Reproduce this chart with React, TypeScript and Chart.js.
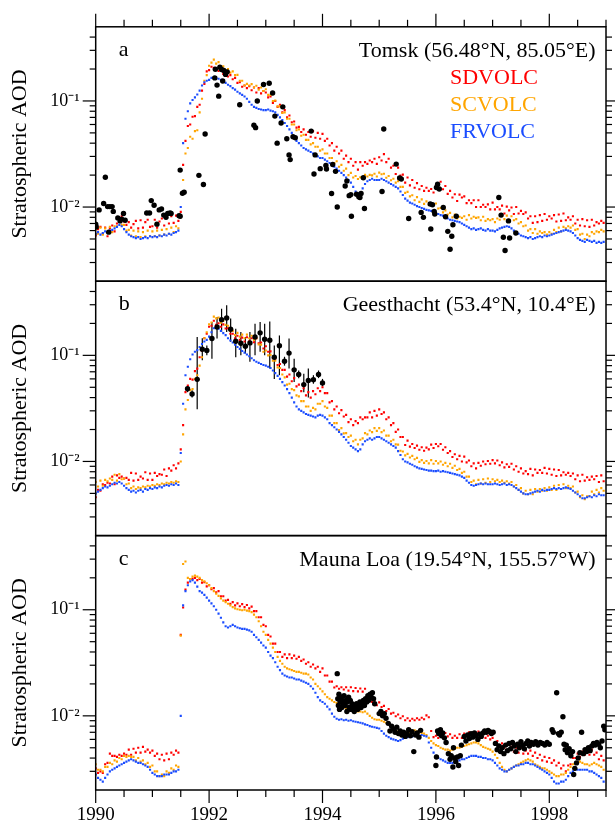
import React, { useEffect, useRef } from 'react';
import { Chart, registerables } from 'chart.js';

Chart.register(...registerables);

const FONT = "'Liberation Serif', 'Times New Roman', serif";

// ---- model series: AOD x 10^-3, sampled every 1/24 year starting 1990.0 ----
const T0 = 1990;
const STEP = 1 / 24;

// Panel a: Tomsk
const TOMSK_SD = [
  5.4, 6.2, 6.5, 5.6, 6.4, 5.3, 6.3, 6.7, 5.9, 7.0, 7.6, 8.2, 7.3, 6.8, 7.2, 6.4, 6.9, 7.4, 6.3, 7.5, 6.4, 7.2, 7.6, 6.5,
  6.6, 7.6, 6.4, 7.3, 7.8, 6.7, 8.0, 7.0, 8.2, 7.1, 8.3, 7.4, 9, 25, 42, 58, 60, 71, 72, 88, 92, 125, 145, 190,
  195, 210, 205, 198, 192, 200, 180, 185, 170, 175, 160, 165, 148, 150, 136, 140, 132, 138, 126, 134, 120, 132, 118, 124,
  120, 108, 110, 96, 100, 88, 92, 78, 82, 70, 73, 63, 64, 56, 57, 51, 54, 48, 51, 46, 52, 45, 50, 44,
  49, 42, 44, 38, 40, 34, 37, 32, 34, 28.5, 30.5, 26.5, 28.5, 24.5, 26.5, 22.5, 26.5, 24.5, 26.5, 25.5, 27.5, 26.5, 28.5, 25.5,
  29.5, 27.5, 31.5, 26.5, 28.5, 23.5, 24.5, 20.5, 23.5, 19.8, 20.2, 17, 19, 16, 18, 15.2, 16.8, 14.7, 15.8, 14.2, 15.2, 14.2, 14.8, 13.7,
  15.8, 15.2, 17.3, 14.7, 15.8, 13.3, 14.2, 12.3, 13.2, 11.4, 13.1, 12.3, 12.6, 10.9, 11.6, 10.9, 11.6, 10, 11.6, 10, 10.5, 10, 10.6, 9.5,
  11, 9.5, 10, 9.5, 10.3, 8.7, 10.1, 9.3, 9.9, 8.6, 10, 8.7, 9.2, 8.6, 8.9, 7.8, 8.2, 7.1, 8.2, 7.2, 8.4, 7.4, 8.6, 7.6,
  8.2, 7.8, 8.4, 7.3, 8.5, 7.4, 8.7, 7.5, 8.0, 7.6, 8.2, 7.0, 7.6, 6.7, 7.7, 6.6, 7.5, 6.5, 7.6, 6.7, 7.2, 7.0, 7.4, 7.1,
];
const TOMSK_SC = [
  6.2, 5.6, 6.4, 5.5, 6.3, 5.7, 6.5, 5.8, 6.6, 6.6, 7.5, 6.8, 6.8, 6.0, 6.1, 5.4, 6.0, 5.3, 5.9, 5.2, 5.8, 5.3, 6.0, 5.3,
  5.9, 5.3, 6.0, 5.4, 6.1, 5.5, 6.2, 5.6, 6.4, 5.8, 6.6, 6.3, 8, 18, 32, 36, 46, 44, 52, 53, 78, 105, 155, 175,
  215, 230, 245, 225, 232, 210, 212, 195, 200, 185, 190, 175, 176, 155, 155, 140, 145, 140, 144, 134, 139, 128, 134, 124,
  129, 114, 114, 100, 101, 89, 89, 77, 78, 68, 68, 60, 60, 53, 54, 47, 48, 43, 43, 39, 40, 37, 37, 34,
  35, 32, 32, 29, 29, 26, 27, 24, 25, 22, 23, 20, 21, 19, 19.6, 18.4, 19.1, 18.4, 20.1, 19.4, 20.1, 19.9, 20.6, 19.4,
  21.1, 20.4, 20.6, 18.9, 19.6, 17.9, 18.5, 17, 17.5, 15.5, 15.5, 13.6, 13.9, 12.6, 12.9, 11.6, 12.4, 11.2, 11.8, 10.7, 11.3, 10.5, 10.8, 10.4,
  10.8, 9.7, 9.8, 8.9, 9.3, 8.5, 8.8, 8.0, 8.5, 7.8, 8.1, 7.9, 8.2, 7.6, 8.4, 7.8, 8.1, 7.9, 8.0, 7.5, 8.1, 7.4, 7.7, 7.5,
  7.7, 7.2, 7.8, 7.6, 8.2, 7.7, 8.3, 7.6, 8.2, 7.5, 7.7, 7.0, 7.2, 6.6, 6.7, 6.0, 6.2, 5.7, 6.2, 5.6, 5.9, 5.7, 5.8, 5.5,
  5.8, 5.6, 6.1, 5.8, 6.4, 5.9, 6.5, 6.3, 6.6, 6.4, 6.7, 6.1, 6.2, 5.5, 5.6, 5.0, 5.5, 5.3, 5.8, 5.6, 5.9, 5.8, 6.1, 5.9,
];
const TOMSK_FR = [
  5.6, 5.8, 5.5, 5.7, 5.9, 5.8, 6.0, 6.1, 6.3, 6.5, 6.8, 6.6, 6.2, 5.8, 5.5, 5.3, 5.2, 5.1, 5.2, 5.0, 5.1, 5.2, 5.1, 5.3,
  5.2, 5.3, 5.2, 5.4, 5.3, 5.5, 5.4, 5.6, 5.5, 5.7, 5.8, 6.0, 10, 40, 68, 80, 95, 102, 108, 115, 125, 140, 150, 155,
  158, 165, 168, 165, 162, 158, 152, 148, 142, 138, 132, 128, 122, 118, 114, 110, 105, 98, 92, 88, 86, 84, 83, 82,
  82, 83, 81, 80, 78, 74, 70, 66, 62, 58, 54, 50, 46, 42, 40, 38, 36, 35, 34, 33, 32, 31, 30, 29,
  29, 28, 27, 26, 25, 24, 23, 22, 21, 20, 19, 18, 17, 15.5, 14, 13.5, 13, 15, 16.5, 17.5, 18, 18.5, 18, 18,
  18, 18.5, 18, 17.5, 17, 16.5, 16, 15.5, 15, 14, 13, 12, 11.5, 11, 10.8, 10.5, 10.2, 10, 9.8, 9.6, 9.4, 9.3, 9.2, 9.0,
  8.8, 8.6, 8.4, 8.3, 8.0, 7.8, 7.6, 7.5, 7.4, 7.3, 7.2, 7.0, 6.8, 6.6, 6.4, 6.2, 6.3, 6.1, 6.2, 6.3, 6.1, 6.0, 6.2, 6.0,
  6.0, 5.9, 6.1, 6.3, 6.4, 6.5, 6.6, 6.5, 6.3, 6.0, 5.8, 5.6, 5.4, 5.3, 5.2, 5.1, 5.2, 5.0, 5.1, 5.2, 5.3, 5.2, 5.4, 5.3,
  5.4, 5.5, 5.6, 5.7, 5.8, 5.9, 6.0, 6.1, 6.0, 5.9, 5.7, 5.4, 5.1, 4.9, 4.8, 4.7, 4.9, 4.8, 4.7, 4.8, 4.6, 4.7, 4.6, 4.7,
];

// Panel b: Geesthacht
const GEES_SD = [
  4.6, 5.4, 5.3, 6.1, 6.0, 6.3, 6.2, 7.2, 6.1, 7.4, 7.0, 7.2, 6.9, 7.0, 6.7, 7.8, 6.6, 7.7, 6.7, 7.2, 6.9, 7.9, 6.7, 7.7,
  6.7, 7.8, 7.3, 7.6, 7.5, 8.4, 7.3, 8.6, 8.2, 9.2, 8.6, 9.6, 13, 22, 45, 52, 60, 59, 71, 75, 96, 110, 145, 160,
  186, 190, 212, 194, 201, 186, 196, 179, 180, 160, 160, 145, 153, 140, 147, 135, 148, 136, 145, 133, 145, 130, 132, 116,
  122, 108, 109, 94, 93, 81, 83, 73, 73, 63, 66, 57, 61, 51, 53, 46, 49, 42, 45, 40, 46, 43, 49, 46,
  50, 44, 44, 36, 37, 31, 33, 28.5, 30.5, 26.5, 27.5, 23.5, 25, 22, 24, 23, 26, 25, 26, 26, 29, 26, 30, 27,
  31, 28, 29, 25, 26, 22, 23, 19, 20, 17, 17, 14.3, 15.7, 13.8, 14.6, 13.4, 14.1, 12.9, 13.6, 12.6, 13.5, 13, 14.4, 13.4,
  14.6, 13.9, 14.6, 12.9, 13.6, 12, 12.5, 11, 11.7, 10.5, 11.3, 10, 11.1, 9.8, 10.2, 9, 9.6, 8.6, 9.7, 9.1, 10, 9.4, 10.1, 9.5,
  10.3, 9.6, 10.2, 9.2, 9.8, 8.8, 9.4, 8.9, 9.5, 8.4, 9.0, 8.0, 8.6, 7.7, 8.1, 7.6, 8.5, 7.4, 8.4, 7.8, 8.3, 7.8, 8.7, 7.7,
  8.5, 7.5, 8.4, 7.3, 8.3, 7.4, 7.9, 7.5, 7.8, 7.3, 7.7, 6.8, 7.4, 6.5, 7.5, 6.6, 7.1, 6.7, 7.2, 6.8, 7.3, 6.4, 7.4, 6.5,
];
const GEES_SC = [
  6.4, 5.8, 6.6, 5.9, 6.7, 6.5, 6.9, 6.7, 7.5, 6.6, 7.6, 6.8, 6.9, 6.1, 6.2, 5.6, 5.8, 5.5, 5.7, 5.6, 5.8, 5.7, 5.9, 5.8,
  6.0, 5.9, 6.1, 6.0, 6.2, 6.1, 6.3, 6.2, 6.4, 6.3, 6.5, 6.4, 10, 18, 31, 38, 47, 48, 60, 65, 80, 96, 145, 165,
  196, 204, 232, 223, 227, 203, 211, 194, 190, 170, 170, 155, 163, 150, 157, 145, 157, 145, 153, 140, 145, 127, 126, 108,
  111, 100, 101, 89, 89, 77, 76, 66, 62, 53, 54, 48, 47, 42, 41, 37, 37, 33, 33, 30, 32, 31, 35, 35,
  37, 33, 32, 27, 27, 23, 23, 19.8, 20.6, 18.4, 18.5, 17, 17.5, 15.5, 16, 14.5, 16, 16.5, 18.5, 18, 19.6, 18.9, 20.6, 19.4,
  20.6, 18.9, 19.6, 17.5, 17.5, 15.5, 16, 14.5, 14.4, 12.6, 12.4, 11.4, 11.8, 10.9, 11.3, 10.5, 10.8, 9.9, 10.3, 9.7, 10.1, 9.6, 10.3, 9.5,
  10.1, 9.6, 10, 9.3, 9.7, 9.0, 9.5, 8.7, 9.1, 8.3, 8.5, 7.8, 8.0, 7.2, 7.2, 6.4, 6.6, 6.1, 6.7, 6.2, 6.8, 6.3, 6.9, 6.4,
  6.8, 6.5, 6.7, 6.4, 6.6, 6.3, 6.5, 6.2, 6.4, 5.8, 6.0, 5.4, 5.6, 5.0, 5.3, 4.9, 5.4, 4.9, 5.5, 5.2, 5.5, 5.3, 5.6, 5.3,
  5.7, 5.4, 5.9, 5.4, 6.0, 5.5, 6.1, 5.6, 5.9, 5.6, 5.8, 5.1, 5.2, 4.6, 4.8, 4.4, 4.7, 4.7, 5.2, 4.9, 5.4, 5.1, 5.6, 5.3,
];
const GEES_FR = [
  5.0, 5.2, 5.4, 5.6, 5.8, 5.7, 5.9, 6.1, 6.3, 6.2, 6.4, 6.2, 5.9, 5.6, 5.4, 5.2, 5.3, 5.1, 5.3, 5.4, 5.2, 5.5, 5.4, 5.6,
  5.5, 5.7, 5.6, 5.8, 5.7, 5.9, 6.0, 5.9, 6.1, 6.0, 6.2, 6.0, 12, 35, 65, 78, 92, 102, 108, 112, 120, 128, 135, 140,
  150, 165, 180, 185, 178, 170, 162, 155, 145, 138, 132, 126, 120, 115, 110, 106, 102, 98, 94, 90, 87, 85, 83, 81,
  80, 78, 76, 72, 68, 64, 60, 56, 52, 48, 44, 40, 36, 33, 31, 30, 29, 28, 27.5, 27, 26.5, 26, 27, 27.5,
  27, 26, 25, 23, 22, 21, 20, 19, 18, 17, 16, 15, 14, 13.5, 13, 12.5, 13, 14.5, 15.5, 16, 16.5, 16, 16.5, 17,
  17, 16.5, 16, 15.5, 15, 14.5, 14, 13.5, 12.5, 11.5, 10.5, 10, 9.8, 9.5, 9.3, 9.0, 8.8, 8.6, 8.5, 8.4, 8.3, 8.2, 8.2, 8.1,
  8.1, 8.2, 8.0, 8.1, 8.0, 7.9, 7.8, 7.7, 7.6, 7.5, 7.4, 7.2, 7.0, 6.6, 6.3, 6.0, 5.9, 6.0, 6.1, 6.2, 6.1, 6.2, 6.1, 6.1,
  6.1, 6.2, 6.1, 6.0, 6.1, 6.2, 6.0, 6.1, 6.0, 5.8, 5.6, 5.4, 5.2, 5.0, 4.9, 4.9, 5.0, 5.1, 5.2, 5.3, 5.2, 5.4, 5.3, 5.4,
  5.4, 5.5, 5.6, 5.5, 5.6, 5.5, 5.6, 5.7, 5.6, 5.5, 5.3, 5.1, 4.9, 4.7, 4.5, 4.5, 4.6, 4.7, 4.6, 4.8, 4.7, 4.9, 4.8, 4.8,
];

// Panel c: Mauna Loa
const MAUNA_SD = [
  3.2, 2.9, 3.0, 2.9, 3.5, 3.6, 4.4, 4.2, 4.2, 4.1, 4.3, 4.2, 4.4, 4.3, 4.8, 4.3, 4.9, 4.5, 5.0, 4.5, 5.1, 4.6, 4.8, 4.5,
  4.7, 4.2, 4.4, 3.9, 4.3, 3.8, 4.4, 3.9, 4.5, 4.3, 4.7, 4.5, 58, 105, 155, 180, 195, 196, 200, 190, 195, 180, 182, 166,
  170, 156, 160, 146, 150, 134, 134, 122, 124, 114, 118, 110, 115, 108, 113, 106, 111, 103, 107, 97, 97, 85, 85, 72,
  70, 58, 56, 48, 48, 40, 40, 36, 38, 35, 38, 35, 37, 34.5, 36, 33, 34, 31, 32, 29, 30.5, 28, 29, 26,
  28, 24, 24, 21, 21, 18.5, 19, 18, 18.6, 17.7, 18.6, 17.3, 18.6, 17.1, 18.3, 17, 18.1, 16.9, 18, 15.5, 15.5, 13.5, 14, 12.6,
  13.4, 12.1, 12.4, 11.1, 11.6, 10.5, 10.7, 9.9, 10.3, 9.5, 9.9, 9.1, 9.5, 9, 9.4, 9.1, 9.5, 9.2, 9.6, 9.3, 10.1, 9.7, 7.2, 6.3,
  6.5, 6.2, 6.8, 6.3, 6.9, 6.4, 6.7, 6.2, 6.5, 6.2, 6.7, 6.2, 6.8, 6.5, 7.0, 6.7, 7.0, 6.8, 7.1, 6.6, 6.8, 6.2, 6.5, 6.0,
  6.2, 5.6, 5.8, 5.2, 5.5, 5.0, 5.3, 4.8, 5.1, 4.6, 5.0, 4.5, 5.0, 4.4, 4.7, 4.4, 4.7, 4.2, 4.5, 4.0, 4.3, 3.8, 4.1, 3.7,
  4.0, 3.6, 3.8, 3.4, 3.6, 3.2, 3.4, 3.0, 3.4, 3.5, 4.0, 4.0, 4.4, 4.1, 4.6, 4.3, 4.6, 4.3, 4.8, 4.3, 4.5, 3.9, 4.2, 3.8,
];
const MAUNA_SC = [
  3.5, 3.1, 3.1, 3.0, 3.3, 3.3, 3.6, 3.5, 3.8, 3.7, 4.0, 3.9, 4.2, 4.1, 4.2, 4.1, 4.1, 3.8, 4.0, 3.7, 3.8, 3.5, 3.6, 3.3,
  3.4, 3.0, 3.0, 2.7, 2.8, 2.7, 3.0, 2.9, 3.2, 3.1, 3.4, 3.3, 57, 270, 285, 200, 195, 205, 210, 205, 200, 190, 185, 178,
  170, 160, 150, 142, 135, 128, 122, 118, 114, 110, 106, 103, 101, 100, 99, 100, 98, 97, 95, 90, 85, 78, 70, 62,
  58, 52, 48, 44, 40, 36, 33, 31, 29, 28, 27.5, 27, 26.5, 26, 26, 25.5, 25, 25, 24.5, 23, 22, 20, 19, 18,
  17, 16, 15, 14.5, 14, 13.5, 13.2, 13, 12.5, 12, 11.6, 11.4, 11.3, 11.2, 11.1, 11, 11, 10.8, 11, 10.5, 10, 9.6, 9.3, 9.2,
  9.2, 9.0, 8.8, 8.6, 8.5, 8.0, 7.6, 7.2, 7.1, 7.0, 6.9, 6.8, 6.9, 7.0, 7.2, 7.3, 7.1, 7.0, 6.9, 6.8, 6.6, 6.2, 5.8, 5.5,
  5.3, 5.2, 5.0, 4.9, 4.8, 4.8, 4.7, 4.8, 4.9, 5.0, 5.0, 5.1, 5.2, 5.3, 5.4, 5.5, 5.6, 5.6, 5.5, 5.3, 5.1, 5.0, 4.9, 4.8,
  4.6, 4.3, 4.0, 3.6, 3.3, 3.1, 3.0, 3.1, 3.2, 3.3, 3.4, 3.5, 3.6, 3.7, 3.8, 3.9, 3.8, 3.7, 3.5, 3.4, 3.3, 3.2, 3.2, 3.1,
  3.0, 2.9, 2.8, 2.7, 2.7, 2.8, 2.8, 2.9, 3.1, 3.3, 3.5, 3.6, 3.6, 3.7, 3.6, 3.5, 3.5, 3.4, 3.5, 3.6, 3.5, 3.4, 3.3, 3.1,
];
const MAUNA_FR = [
  2.8, 2.6, 2.5, 2.4, 2.6, 2.8, 3.0, 3.1, 3.2, 3.3, 3.4, 3.5, 3.6, 3.7, 3.8, 3.9, 3.8, 3.7, 3.6, 3.6, 3.5, 3.4, 3.3, 3.1,
  2.9, 2.8, 2.7, 2.7, 2.7, 2.8, 2.8, 2.8, 2.9, 3.0, 3.0, 3.1, 10, 110, 150, 170, 185, 190, 180, 165, 150, 145, 138, 130,
  122, 115, 108, 100, 92, 84, 76, 70, 68, 70, 72, 70, 68, 67, 66, 66, 65, 64, 62, 58, 55, 52, 49, 46,
  44, 40, 37, 35, 32, 29, 27, 25, 24, 23.5, 23, 23, 22.5, 22, 22, 21.5, 21, 20.5, 20, 19, 18, 16.5, 15, 14,
  13.5, 13, 12.2, 11.5, 10.5, 9.8, 9.4, 9.2, 9.3, 9.1, 9.2, 9.0, 9.1, 8.9, 8.8, 8.7, 8.6, 8.5, 8.3, 8.2, 8.0, 7.9, 7.8, 7.7,
  7.6, 7.2, 6.8, 6.5, 6.3, 6.1, 6.0, 5.9, 5.8, 5.9, 6.1, 6.2, 6.3, 6.4, 6.4, 6.5, 6.6, 6.5, 6.6, 6.5, 6.4, 5.6, 5.0, 4.5,
  4.2, 4.0, 3.9, 3.8, 3.7, 3.6, 3.6, 3.6, 3.7, 3.8, 3.8, 3.9, 3.9, 4.0, 4.1, 4.2, 4.2, 4.2, 4.1, 4.1, 4.0, 4.0, 3.9, 3.9,
  3.8, 3.6, 3.4, 3.2, 3.1, 3.0, 3.0, 3.1, 3.2, 3.3, 3.4, 3.4, 3.5, 3.5, 3.6, 3.6, 3.5, 3.5, 3.4, 3.3, 3.2, 3.1, 3.0, 2.9,
  2.8, 2.6, 2.4, 2.3, 2.3, 2.4, 2.4, 2.5, 2.7, 2.9, 3.0, 3.1, 3.1, 3.1, 3.1, 3.1, 3.1, 3.0, 3.0, 2.9, 2.8, 2.7, 2.6, 2.4,
];

// ---- observations (AOD x 10^-3) ----
const TOMSK_OBS_T = [
  1990.00, 1990.01, 1990.06, 1990.14, 1990.17, 1990.21, 1990.23, 1990.25, 1990.29, 1990.31, 1990.39, 1990.43, 1990.46, 1990.49, 1990.52,
  1990.90, 1990.95, 1990.98, 1991.03, 1991.08, 1991.12, 1991.16, 1991.20, 1991.24, 1991.27, 1991.31, 1991.33, 1991.47, 1991.49, 1991.49,
  1991.53, 1991.56, 1991.82, 1991.90, 1991.93, 1992.10, 1992.11, 1992.14, 1992.17, 1992.19, 1992.22, 1992.24, 1992.26, 1992.29, 1992.32,
  1992.54, 1992.79, 1992.82, 1992.85, 1992.96, 1993.06, 1993.12, 1993.16, 1993.20, 1993.27, 1993.30, 1993.37, 1993.41, 1993.43, 1993.48,
  1993.52, 1993.80, 1993.85, 1993.87, 1993.96, 1994.06, 1994.07, 1994.16, 1994.18, 1994.23, 1994.26, 1994.40, 1994.43, 1994.47, 1994.50,
  1994.51, 1994.60, 1994.64, 1994.66, 1994.68, 1994.72, 1994.74, 1995.05, 1995.08, 1995.30, 1995.36, 1995.39, 1995.52, 1995.74, 1995.78,
  1995.90, 1995.91, 1995.94, 1995.97, 1995.98, 1996.01, 1996.03, 1996.06, 1996.13, 1996.17, 1996.21, 1996.25, 1996.28, 1996.30, 1996.36,
  1997.11, 1997.15, 1997.19, 1997.22, 1997.28, 1997.30, 1997.41,
];
const TOMSK_OBS_V = [
  6.9, 6.5, 9.4, 10.8, 19.1, 10.1, 5.8, 10.1, 10.1, 9.1, 7.9, 7.4, 7.7, 8.7, 7.5,
  8.8, 8.8, 11.5, 10.4, 6.9, 9.4, 9.6, 8.4, 8.0, 8.7, 8.8, 8.7, 8.3, 8.2, 22.3,
  13.5, 13.8, 19.9, 16.3, 48.8, 165, 199, 141, 111, 208, 198, 154, 194, 178, 188,
  92, 59, 56, 100, 143, 147, 119, 72, 40, 62, 88, 44, 31, 28, 46,
  45, 52, 20.5, 31, 23, 24.7, 22.8, 13.4, 25.2, 21.7, 10, 15.8, 17.6, 12.8, 13.1,
  8.2, 13.2, 12.5, 12.3, 13.4, 18.9, 9.7, 14, 54.4, 25.4, 18.8, 18.4, 7.8, 8.9, 8.0,
  10.7, 6.2, 10.5, 9.1, 8.6, 15.3, 16.4, 14.8, 9.9, 8.1, 5.9, 4.0, 5.3, 6.8, 8.2,
  12.3, 8.4, 5.2, 3.9, 7.4, 5.1, 5.7,
];

const GEES_OBS_T = [
  1991.62, 1991.70, 1991.79, 1991.88, 1991.96, 1992.05, 1992.14, 1992.22, 1992.31, 1992.38,
  1992.47, 1992.56, 1992.64, 1992.72, 1992.81, 1992.90, 1992.98, 1993.07, 1993.15, 1993.24,
  1993.33, 1993.41, 1993.50, 1993.58, 1993.67, 1993.75, 1993.84, 1993.93, 1994.00,
];
const GEES_OBS_V = [
  48.5, 43.2, 59.4, 114, 111, 144, 185, 217, 225, 176,
  136, 130, 122, 131, 149, 163, 142, 139, 96, 123,
  88, 105, 73, 66, 53, 58, 59, 66, 55,
];
const GEES_OBS_LO = [
  45, 40, 31, 90, 100, 93, 144, 166, 166, 134,
  96, 100, 104, 87, 100, 108, 100, 75, 60, 65,
  80, 75, 56, 61, 45, 40, 54, 61, 51,
];
const GEES_OBS_HI = [
  52, 47, 149, 145, 124, 206, 230, 275, 296, 222,
  178, 166, 149, 166, 199, 206, 199, 209, 124, 154,
  97, 144, 93, 72, 67, 75, 65, 72, 60,
];

const MAUNA_OBS_T = [
  1994.26, 1994.27, 1994.28, 1994.29, 1994.30, 1994.31, 1994.33, 1994.34, 1994.35, 1994.37, 1994.38, 1994.40, 1994.41, 1994.43, 1994.44,
  1994.46, 1994.47, 1994.49, 1994.50, 1994.52, 1994.54, 1994.56, 1994.58, 1994.60, 1994.62, 1994.64, 1994.66, 1994.68, 1994.70, 1994.72,
  1994.74, 1994.76, 1994.78, 1994.80, 1994.82, 1994.84, 1994.86, 1994.88, 1994.90, 1994.92,
  1995.00, 1995.03, 1995.06, 1995.09, 1995.12, 1995.16, 1995.19, 1995.22, 1995.25, 1995.28, 1995.31, 1995.34, 1995.37, 1995.40, 1995.43,
  1995.46, 1995.49, 1995.52, 1995.55, 1995.58, 1995.61, 1995.64, 1995.67, 1995.70, 1995.73,
  1996.00, 1996.01, 1996.03, 1996.05, 1996.08, 1996.10, 1996.12, 1996.15, 1996.18, 1996.22, 1996.25, 1996.27, 1996.30, 1996.31, 1996.33,
  1996.35, 1996.38, 1996.40, 1996.43, 1996.45,
  1996.50, 1996.53, 1996.56, 1996.59, 1996.62, 1996.65, 1996.68, 1996.71, 1996.74, 1996.77, 1996.80, 1996.83, 1996.86, 1996.89, 1996.92,
  1996.95, 1996.98, 1997.01,
  1997.05, 1997.08, 1997.11, 1997.14, 1997.17, 1997.20, 1997.23, 1997.26, 1997.29, 1997.32, 1997.35, 1997.38, 1997.41, 1997.44, 1997.47,
  1997.50, 1997.53, 1997.56, 1997.59, 1997.62, 1997.65, 1997.68, 1997.72, 1997.76, 1997.80, 1997.84, 1997.88, 1997.92, 1997.96, 1998.00,
  1998.05, 1998.07, 1998.13, 1998.16, 1998.18, 1998.21, 1998.24, 1998.26, 1998.28, 1998.30, 1998.32, 1998.35, 1998.38, 1998.41, 1998.43,
  1998.45, 1998.48, 1998.51, 1998.54, 1998.57, 1998.60, 1998.63, 1998.66, 1998.69, 1998.72, 1998.75, 1998.78, 1998.81, 1998.84, 1998.87,
  1998.90, 1998.93, 1998.96, 1998.98,
];
const MAUNA_OBS_V = [
  25, 14.5, 12.5, 16, 11.5, 13.5, 15, 12, 14, 13, 15.5, 12.5, 14, 11, 13.5,
  15, 12, 14, 11.5, 13, 12.5, 11, 12, 13, 11.5, 12.5, 13.5, 12, 13, 14,
  12.5, 14.5, 13.5, 15.5, 14, 16, 15, 16.5, 14.5, 13,
  10.5, 11, 10, 10.5, 9.5, 8.5, 7.2, 8, 7.5, 7.0, 7.8, 6.8, 7.2, 6.6, 7.0,
  6.4, 6.8, 7.4, 6.5, 7.1, 4.6, 6.6, 6.9, 6.3, 7.3,
  3.4, 4.1, 7.2, 6.8, 7.4, 6.5, 6.9, 6.2, 5.6, 4.4, 3.9, 4.2, 3.3, 5.0, 4.0,
  3.7, 4.1, 3.4, 4.2, 5.3,
  6.4, 5.8, 6.6, 6.1, 6.8, 6.3, 6.9, 6.5, 6.0, 6.7, 6.4, 6.9, 7.2, 7.0, 7.3,
  7.1, 6.8, 7.0,
  5.5, 4.8, 5.2, 4.6, 5.0, 4.4, 5.3, 4.7, 5.5, 4.9, 5.6, 5.2, 4.6, 5.4, 5.0,
  5.7, 5.3, 4.9, 5.5, 5.8, 5.2, 5.6, 5.4, 5.7, 5.3, 5.6, 5.5, 5.3, 5.6, 5.4,
  7.4, 7.0, 16.5, 6.8, 6.6, 7.0, 9.8, 5.4, 4.8, 5.3, 4.5, 4.9, 4.2, 4.6, 2.8,
  3.2, 3.6, 4.0, 4.5, 7.0, 4.4, 4.8, 4.6, 5.0, 4.7, 5.2, 5.5, 5.3, 5.6, 5.4,
  5.0, 5.8, 8.0, 7.4,
];

// ---- axes / labels ----
const X_MIN = 1990;
const X_MAX = 1999;
const X_TICKS = [1990, 1992, 1994, 1996, 1998];
const Y_MIN = 0.002;
const Y_MAX = 0.5;
const Y_TICKS = [0.01, 0.1];
const Y_TICK_LABELS = ['10⁻²', '10⁻¹'];
const Y_TITLE = 'Stratospheric AOD';
const PANEL_LETTERS = ['a', 'b', 'c'];
const STATIONS = ['Tomsk (56.48°N, 85.05°E)', 'Geesthacht (53.4°N, 10.4°E)', 'Mauna Loa (19.54°N, 155.57°W)'];
const LEGEND_NAMES = ['SDVOLC', 'SCVOLC', 'FRVOLC'];

const RED = '#ff0000';
const ORANGE = '#ffa500';
const BLUE = '#1a4cff';
const LEGEND_COLORS = [RED, ORANGE, BLUE];

const series = (vals: number[]) => vals.map((v, i) => ({ x: T0 + i * STEP, y: v * 1e-3 }));
const obs = (t: number[], v: number[]) => t.map((x, i) => ({ x, y: v[i] * 1e-3 }));

const modelDs = (label: string, vals: number[], color: string, yAxisID: string) => ({
  label,
  data: series(vals),
  yAxisID,
  xAxisID: 'x',
  backgroundColor: color,
  borderColor: color,
  pointStyle: 'rect',
  pointRadius: 1.5,
  pointBorderWidth: 0,
  showLine: false,
});
const obsDs = (label: string, t: number[], v: number[], yAxisID: string) => ({
  label,
  data: obs(t, v),
  yAxisID,
  xAxisID: 'x',
  backgroundColor: '#000',
  borderColor: '#000',
  pointStyle: 'circle',
  pointRadius: 2.7,
  pointBorderWidth: 0,
  showLine: false,
});

const makeY = () => ({
  type: 'logarithmic',
  position: 'left',
  stack: 'panels',
  stackWeight: 1,
  min: Y_MIN,
  max: Y_MAX,
  afterFit: (s: any) => { s.width = 95.7; },
  afterBuildTicks: (s: any) => { s.ticks = Y_TICKS.map((value) => ({ value })); },
  ticks: {
    autoSkip: false,
    padding: 16,
    color: '#000',
    font: { family: FONT, size: 18 },
    callback: (v: number) => {
      const i = Y_TICKS.findIndex((t) => Math.abs(t - v) < 1e-9);
      return i >= 0 ? Y_TICK_LABELS[i] : '';
    },
  },
  grid: { display: false, drawTicks: false },
  border: { display: false },
  title: {
    display: true,
    text: Y_TITLE,
    color: '#000',
    font: { family: FONT, size: 22 },
    padding: { top: 7, bottom: 0 },
  },
});

const decorPlugin = {
  id: 'decor',
  beforeDatasetsDraw(chart: any) {
    const { ctx, scales } = chart;
    const xs = scales.x;
    const yb = scales.yb;
    ctx.save();
    ctx.strokeStyle = '#000';
    ctx.lineWidth = 1.2;
    for (let i = 0; i < GEES_OBS_T.length; i++) {
      const px = xs.getPixelForValue(GEES_OBS_T[i]);
      ctx.beginPath();
      ctx.moveTo(px, yb.getPixelForValue(GEES_OBS_LO[i] * 1e-3));
      ctx.lineTo(px, yb.getPixelForValue(GEES_OBS_HI[i] * 1e-3));
      ctx.stroke();
    }
    ctx.restore();
  },
  afterDraw(chart: any) {
    const { ctx, chartArea: ca, scales } = chart;
    const xs = scales.x;
    const panels = ['ya', 'yb', 'yc'].map((id) => scales[id]);
    ctx.save();
    ctx.strokeStyle = '#000';
    ctx.lineWidth = 1.2;
    const seg = (x1: number, y1: number, x2: number, y2: number) => {
      ctx.beginPath();
      ctx.moveTo(x1, y1);
      ctx.lineTo(x2, y2);
      ctx.stroke();
    };
    // y tick marks (log minor + major), outward on both sides
    for (const s of panels) {
      for (const dec of [0.001, 0.01, 0.1]) {
        for (let k = 1; k <= 9; k++) {
          const v = dec * k;
          if (v <= Y_MIN * 1.0001 || v >= Y_MAX * 0.9999) continue;
          const py = s.getPixelForValue(v);
          const len = k === 1 ? 13 : 6;
          seg(ca.left - len, py, ca.left, py);
          seg(ca.right, py, ca.right + len, py);
        }
      }
    }
    // x tick marks, outward at top and bottom
    const top = panels[0].top;
    const bottom = panels[2].bottom;
    for (let h = 0; h <= (X_MAX - X_MIN) * 2; h++) {
      const v = X_MIN + h / 2;
      const px = xs.getPixelForValue(v);
      const len = (v - X_MIN) % 2 === 0 ? 13 : 7;
      seg(px, top - len, px, top);
      seg(px, bottom, px, bottom + len);
    }
    // frames
    ctx.lineWidth = 1.5;
    for (const s of panels) {
      ctx.strokeRect(ca.left, s.top, ca.right - ca.left, s.bottom - s.top);
    }
    // texts
    ctx.font = `22px ${FONT}`;
    ctx.textBaseline = 'alphabetic';
    ctx.fillStyle = '#000';
    panels.forEach((s: any, i: number) => {
      ctx.textAlign = 'left';
      ctx.fillText(PANEL_LETTERS[i], ca.left + 23, s.top + 29);
      ctx.textAlign = 'right';
      ctx.fillText(STATIONS[i], ca.right - 10.5, s.top + 30);
    });
    ctx.textAlign = 'left';
    LEGEND_NAMES.forEach((name, i) => {
      ctx.fillStyle = LEGEND_COLORS[i];
      ctx.fillText(name, 450, panels[0].top + 57.5 + i * 27);
    });
    ctx.restore();
  },
};

export default function App() {
  const ref = useRef<HTMLCanvasElement>(null);
  useEffect(() => {
    const canvas = ref.current;
    if (!canvas) return;
    const chart = new Chart(canvas, {
      type: 'scatter',
      data: {
        datasets: [
          obsDs('Tomsk obs', TOMSK_OBS_T, TOMSK_OBS_V, 'ya'),
          obsDs('Geesthacht obs', GEES_OBS_T, GEES_OBS_V, 'yb'),
          obsDs('Mauna Loa obs', MAUNA_OBS_T, MAUNA_OBS_V, 'yc'),
          modelDs('FRVOLC a', TOMSK_FR, BLUE, 'ya'),
          modelDs('FRVOLC b', GEES_FR, BLUE, 'yb'),
          modelDs('FRVOLC c', MAUNA_FR, BLUE, 'yc'),
          modelDs('SCVOLC a', TOMSK_SC, ORANGE, 'ya'),
          modelDs('SCVOLC b', GEES_SC, ORANGE, 'yb'),
          modelDs('SCVOLC c', MAUNA_SC, ORANGE, 'yc'),
          modelDs('SDVOLC a', TOMSK_SD, RED, 'ya'),
          modelDs('SDVOLC b', GEES_SD, RED, 'yb'),
          modelDs('SDVOLC c', MAUNA_SD, RED, 'yc'),
        ] as any,
      },
      options: {
        animation: false,
        responsive: false,
        events: [],
        layout: { padding: { top: 22, right: 9, left: 0, bottom: 0 } },
        plugins: { legend: { display: false }, tooltip: { enabled: false } },
        scales: {
          x: {
            type: 'linear',
            position: 'bottom',
            min: X_MIN,
            max: X_MAX,
            afterFit: (s: any) => { s.height = 37; },
            afterBuildTicks: (s: any) => { s.ticks = X_TICKS.map((value) => ({ value })); },
            ticks: {
              autoSkip: false,
              maxRotation: 0,
              padding: 14,
              color: '#000',
              font: { family: FONT, size: 19 },
              callback: (v: number) => String(v),
            },
            grid: { display: false, drawTicks: false },
            border: { display: false },
          },
          yc: makeY(),
          yb: makeY(),
          ya: makeY(),
        } as any,
      },
      plugins: [decorPlugin],
    });
    return () => chart.destroy();
  }, []);
  return (
    <div style={{ position: 'absolute', left: 0, top: 0, width: 615, height: 827, background: '#fff' }}>
      <canvas ref={ref} width={615} height={827} style={{ display: 'block' }} />
    </div>
  );
}
